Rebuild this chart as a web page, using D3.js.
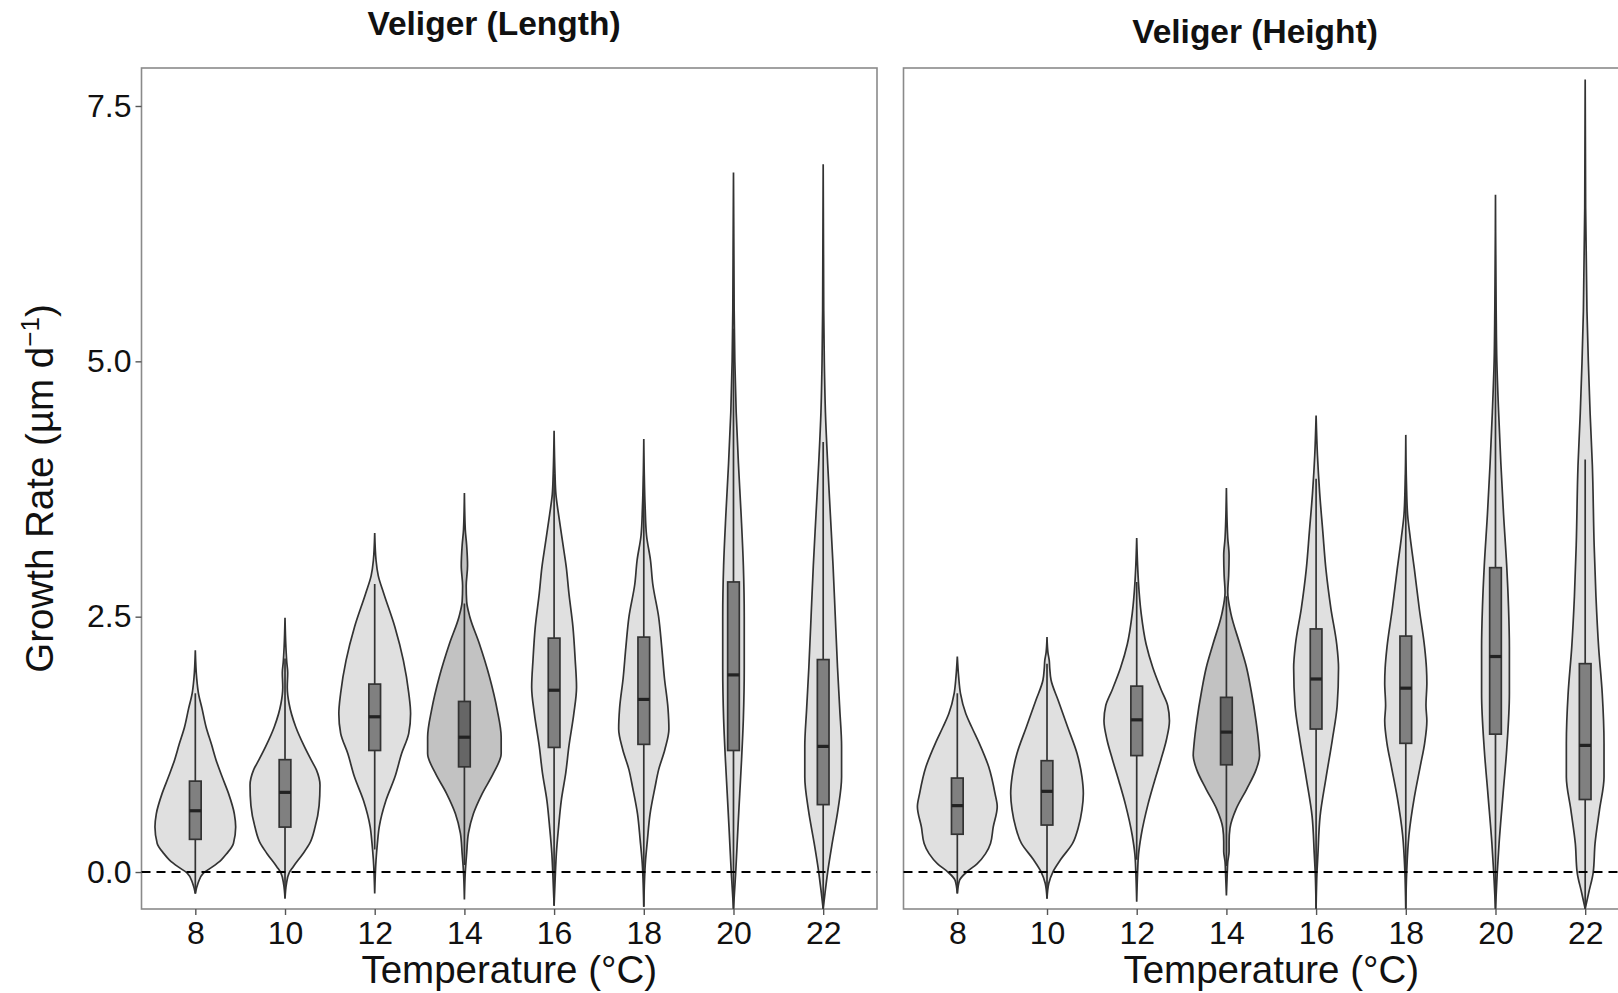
<!DOCTYPE html>
<html>
<head>
<meta charset="utf-8">
<script src="https://cdn.jsdelivr.net/npm/d3@7/dist/d3.min.js"></script>
<style>
  body { margin: 0; background: #fff; }
  svg text { font-family: "Liberation Sans", Arial, Helvetica, sans-serif; fill: #111; }
</style>
</head>
<body>
<svg id="chart" width="1618" height="993"></svg>
<script>
// categories and tick labels
const temps = ["8", "10", "12", "14", "16", "18", "20", "22"];
const panelTitles = ["Veliger (Length)", "Veliger (Height)"];
const yTicks = [0, 2.5, 5, 7.5];

// Veliger (Length) - box stats
const lengthQ1 = [0.32, 0.44, 1.19, 1.03, 1.22, 1.25, 1.19, 0.66];
const lengthMedian = [0.60, 0.78, 1.52, 1.32, 1.78, 1.69, 1.93, 1.23];
const lengthQ3 = [0.89, 1.10, 1.84, 1.67, 2.29, 2.30, 2.84, 2.08];
const lengthWhiskerLo = [-0.21, -0.25, 0.22, 0.07, -0.33, -0.34, -0.36, -0.36];
const lengthWhiskerHi = [1.75, 2.09, 2.82, 2.63, 3.90, 3.88, 5.32, 4.21];
// violin outlines: [growth rate, violin width as share of category step]
const lengthViolins = [
  [[-0.21,0],[-0.11,0.06],[-0.01,0.18],[0.05,0.38],[0.12,0.58],[0.18,0.7],[0.28,0.85],[0.44,0.9],[0.57,0.87],[0.77,0.74],[0.93,0.6],[1.1,0.46],[1.25,0.36],[1.42,0.24],[1.6,0.15],[1.75,0.07],[1.9,0.03],[2.17,0]],
  [[-0.26,0],[-0.12,0.03],[-0.01,0.09],[0.05,0.18],[0.18,0.4],[0.28,0.55],[0.44,0.67],[0.65,0.76],[0.85,0.78],[1.0,0.7],[1.1,0.58],[1.23,0.43],[1.42,0.24],[1.65,0.09],[1.81,0.05],[1.95,0.06],[2.05,0.04],[2.2,0.02],[2.49,0]],
  [[-0.21,0],[0.12,0.03],[0.28,0.06],[0.44,0.1],[0.7,0.25],[0.93,0.45],[1.16,0.6],[1.36,0.76],[1.55,0.8],[1.75,0.76],[2.07,0.64],[2.4,0.45],[2.73,0.2],[2.9,0.08],[3.05,0.03],[3.32,0]],
  [[-0.27,0],[0,0.02],[0.18,0.05],[0.38,0.09],[0.57,0.2],[0.77,0.4],[0.97,0.65],[1.16,0.82],[1.32,0.82],[1.59,0.73],[1.91,0.56],[2.24,0.33],[2.5,0.12],[2.65,0.05],[2.8,0.04],[3.0,0.07],[3.2,0.05],[3.35,0.02],[3.71,0]],
  [[-0.33,0],[0,0.03],[0.18,0.05],[0.44,0.1],[0.7,0.16],[0.97,0.26],[1.23,0.33],[1.55,0.44],[1.81,0.5],[2.08,0.47],[2.4,0.42],[2.73,0.33],[2.99,0.27],[3.2,0.2],[3.5,0.1],[3.7,0.04],[3.9,0.02],[4.32,0]],
  [[-0.34,0],[0.12,0.04],[0.31,0.08],[0.57,0.14],[0.83,0.25],[1.0,0.33],[1.2,0.47],[1.4,0.56],[1.6,0.54],[1.9,0.46],[2.2,0.4],[2.5,0.33],[2.82,0.2],[3.05,0.15],[3.3,0.06],[3.57,0.03],[4.24,0]],
  [[-0.36,0],[0,0.05],[0.44,0.1],[0.77,0.14],[1.1,0.18],[1.5,0.22],[2.0,0.24],[2.5,0.24],[3.0,0.22],[3.5,0.17],[4.0,0.11],[4.5,0.06],[5.0,0.03],[5.5,0.015],[6.85,0]],
  [[-0.36,0],[-0.21,0.04],[0,0.1],[0.28,0.2],[0.61,0.33],[0.93,0.41],[1.23,0.41],[1.59,0.37],[2.0,0.32],[2.5,0.27],[3.0,0.22],[3.5,0.16],[4.0,0.1],[4.5,0.05],[5.0,0.025],[5.5,0.012],[6.93,0]]
];

// Veliger (Height)
const heightQ1 = [0.37, 0.46, 1.14, 1.05, 1.40, 1.26, 1.35, 0.71];
const heightMedian = [0.65, 0.79, 1.49, 1.37, 1.89, 1.80, 2.11, 1.24];
const heightQ3 = [0.92, 1.09, 1.82, 1.71, 2.38, 2.31, 2.98, 2.04];
const heightWhiskerLo = [-0.21, -0.26, 0.12, 0.06, -0.36, -0.36, -0.36, -0.36];
const heightWhiskerHi = [1.75, 2.04, 2.84, 2.70, 3.85, 3.89, 5.43, 4.04];
const heightViolins = [
  [[-0.21,0],[-0.08,0.05],[0,0.21],[0.08,0.44],[0.18,0.63],[0.28,0.74],[0.44,0.8],[0.64,0.89],[0.77,0.84],[1.03,0.7],[1.26,0.49],[1.42,0.32],[1.55,0.19],[1.75,0.07],[1.91,0.03],[2.11,0]],
  [[-0.26,0],[-0.11,0.04],[0,0.13],[0.12,0.3],[0.28,0.57],[0.44,0.7],[0.61,0.78],[0.77,0.81],[0.93,0.78],[1.16,0.67],[1.42,0.46],[1.68,0.25],[1.88,0.09],[2.0,0.06],[2.07,0.05],[2.15,0.02],[2.3,0]],
  [[-0.29,0],[0,0.02],[0.17,0.04],[0.36,0.1],[0.66,0.25],[0.88,0.39],[1.1,0.54],[1.29,0.66],[1.48,0.73],[1.63,0.69],[1.78,0.55],[2.0,0.36],[2.23,0.21],[2.53,0.1],[2.83,0.04],[3.0,0.02],[3.27,0]],
  [[-0.23,0],[0,0.02],[0.1,0.03],[0.2,0.06],[0.3,0.06],[0.43,0.08],[0.62,0.22],[0.81,0.45],[1.0,0.66],[1.14,0.74],[1.26,0.72],[1.48,0.66],[1.78,0.55],[2.0,0.45],[2.23,0.3],[2.53,0.1],[2.74,0.03],[2.9,0.05],[3.1,0.06],[3.27,0.03],[3.76,0]],
  [[-0.36,0],[0,0.02],[0.17,0.04],[0.55,0.09],[0.92,0.22],[1.29,0.36],[1.63,0.47],[2.0,0.5],[2.23,0.46],[2.58,0.33],[2.96,0.22],[3.33,0.15],[3.71,0.08],[4.08,0.03],[4.47,0]],
  [[-0.36,0],[0,0.02],[0.36,0.07],[0.73,0.19],[1.03,0.32],[1.26,0.42],[1.48,0.47],[1.63,0.45],[1.85,0.47],[2.0,0.46],[2.2,0.42],[2.58,0.3],[2.97,0.19],[3.27,0.1],[3.5,0.04],[3.8,0.015],[4.28,0]],
  [[-0.36,0],[0,0.04],[0.28,0.08],[0.77,0.17],[1.2,0.25],[1.75,0.31],[2.2,0.31],[2.6,0.29],[3.0,0.25],[3.5,0.18],[4.0,0.12],[4.5,0.07],[5.0,0.03],[5.5,0.015],[6.63,0]],
  [[-0.36,0],[-0.2,0.08],[0,0.18],[0.28,0.22],[0.61,0.32],[0.93,0.42],[1.26,0.42],[1.75,0.38],[2.2,0.3],[2.7,0.24],[3.2,0.2],[3.98,0.16],[4.49,0.11],[5.0,0.07],[5.49,0.04],[6.5,0.01],[7.76,0]]
];

const opts = {
  panelTop: 68, panelBottom: 909,
  panels: [{x0: 141.5, x1: 877}, {x0: 903.5, x1: 1639}],
  titleX: [494, 1255], titleY: [35, 43],
  fill: '#e0e0e0', fillDark: '#c2c2c2', darkTemp: '14',
  boxFill: '#808080', boxFillDark: '#666666',
  line: '#333333', boxWidth: 0.13,
  tickFont: 32, axisFont: 38.5, titleFont: 33.5
};

const svg = d3.select('#chart');
const y = d3.scaleLinear().domain([-0.362, 7.872]).range([opts.panelBottom, opts.panelTop]);

const datasets = [
  {q1: lengthQ1, med: lengthMedian, q3: lengthQ3, lo: lengthWhiskerLo, hi: lengthWhiskerHi, violins: lengthViolins},
  {q1: heightQ1, med: heightMedian, q3: heightQ3, lo: heightWhiskerLo, hi: heightWhiskerHi, violins: heightViolins}
];

datasets.forEach((ds, p) => {
  const pan = opts.panels[p];
  const x = d3.scalePoint().domain(temps).range([pan.x0, pan.x1]).padding(0.6);
  const step = x.step();
  const g = svg.append('g');

  // panel border
  g.append('rect')
    .attr('x', pan.x0).attr('y', opts.panelTop)
    .attr('width', pan.x1 - pan.x0).attr('height', opts.panelBottom - opts.panelTop)
    .attr('fill', 'none').attr('stroke', '#8a8a8a').attr('stroke-width', 1.6);

  // violins
  temps.forEach((t, i) => {
    const cx = x(t);
    const area = d3.area()
      .y(d => y(d[0]))
      .x0(d => cx - d[1] * step / 2)
      .x1(d => cx + d[1] * step / 2)
      .curve(d3.curveMonotoneY);
    g.append('path')
      .attr('d', area(ds.violins[i]))
      .attr('fill', t === opts.darkTemp ? opts.fillDark : opts.fill)
      .attr('stroke', opts.line).attr('stroke-width', 1.7);
  });

  // boxplots
  const bw = opts.boxWidth * step;
  temps.forEach((t, i) => {
    const cx = x(t);
    g.append('line')
      .attr('x1', cx).attr('x2', cx)
      .attr('y1', y(ds.lo[i])).attr('y2', y(ds.hi[i]))
      .attr('stroke', opts.line).attr('stroke-width', 1.7);
    g.append('rect')
      .attr('x', cx - bw / 2).attr('width', bw)
      .attr('y', y(ds.q3[i])).attr('height', y(ds.q1[i]) - y(ds.q3[i]))
      .attr('fill', t === opts.darkTemp ? opts.boxFillDark : opts.boxFill)
      .attr('stroke', opts.line).attr('stroke-width', 1.7);
    g.append('line')
      .attr('x1', cx - bw / 2).attr('x2', cx + bw / 2)
      .attr('y1', y(ds.med[i])).attr('y2', y(ds.med[i]))
      .attr('stroke', '#222').attr('stroke-width', 3.2);
  });

  // zero line
  g.append('line')
    .attr('x1', pan.x0).attr('x2', pan.x1)
    .attr('y1', y(0)).attr('y2', y(0))
    .attr('stroke', '#000').attr('stroke-width', 2)
    .attr('stroke-dasharray', '9,6');

  // x axis
  const xAxis = g.append('g')
    .attr('transform', `translate(0,${opts.panelBottom})`)
    .call(d3.axisBottom(x).tickSize(6).tickPadding(6));
  xAxis.select('.domain').remove();
  xAxis.selectAll('line').attr('stroke', '#555').attr('stroke-width', 1.4);
  xAxis.selectAll('text').attr('font-size', opts.tickFont).attr('fill', '#111');

  g.append('text')
    .attr('x', (pan.x0 + pan.x1) / 2).attr('y', 983)
    .attr('text-anchor', 'middle').attr('font-size', opts.axisFont)
    .text('Temperature (°C)');

  // title
  g.append('text')
    .attr('x', opts.titleX[p]).attr('y', opts.titleY[p])
    .attr('text-anchor', 'middle').attr('font-size', opts.titleFont).attr('font-weight', 'bold')
    .text(panelTitles[p]);

  if (p === 0) {
    const yAxis = g.append('g')
      .attr('transform', `translate(${pan.x0},0)`)
      .call(d3.axisLeft(y).tickValues(yTicks).tickFormat(d3.format('.1f')).tickSize(6).tickPadding(4));
    yAxis.select('.domain').remove();
    yAxis.selectAll('line').attr('stroke', '#555').attr('stroke-width', 1.4);
    yAxis.selectAll('text').attr('font-size', opts.tickFont).attr('fill', '#111');

    const yt = g.append('text')
      .attr('transform', `translate(53,${(opts.panelTop + opts.panelBottom) / 2}) rotate(-90)`)
      .attr('text-anchor', 'middle').attr('font-size', opts.axisFont);
    yt.append('tspan').text('Growth Rate (µm d');
    yt.append('tspan').attr('dy', -14).attr('font-size', 26).text('−1');
    yt.append('tspan').attr('dy', 14).text(')');
  }
});
</script>
</body>
</html>
